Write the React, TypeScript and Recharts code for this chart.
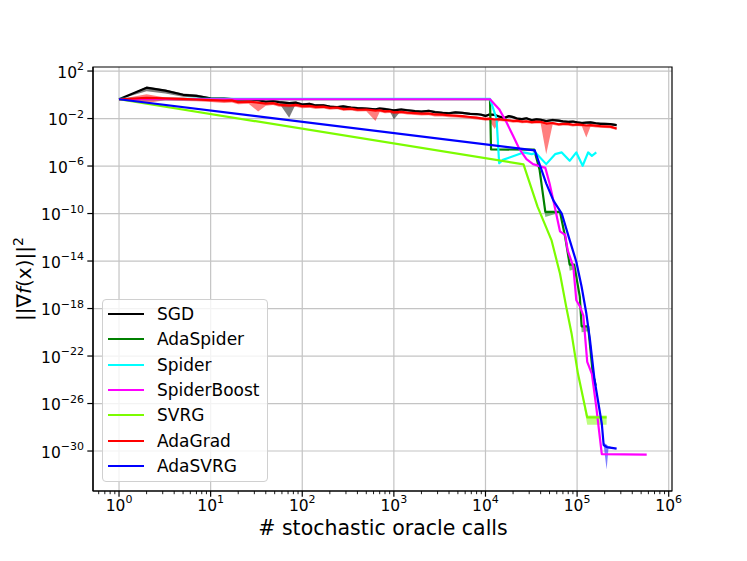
import React from "react";
import {
  Area,
  CartesianGrid,
  ComposedChart,
  Legend,
  Line,
  ReferenceArea,
  XAxis,
  YAxis,
} from "recharts";

// [oracle calls, mean, low, high]  (low/high optional: no band)
const sgd = [
  [1, 0.42, 0.42, 0.42],
  [2, 4.0, 2.0, 4.8],
  [3.2, 2.24, 1.26, 2.8],
  [5, 1.0, 0.7, 1.3],
  [7, 0.8, 0.6, 1.05],
  [10, 0.5, 0.4, 0.6],
  [14, 0.48, 0.38, 0.6],
  [20, 0.4, 0.32, 0.5],
  [26, 0.42, 0.33, 0.52],
  [33, 0.355, 0.28, 0.45],
  [40, 0.26, 0.21, 0.33],
  [48, 0.3, 0.24, 0.37],
  [56, 0.24, 0.19, 0.3],
  [72, 0.2, 0.0115, 0.25],
  [85, 0.22, 0.17, 0.27],
  [100, 0.15, 0.12, 0.19],
  [120, 0.17, 0.13, 0.21],
  [140, 0.126, 0.1, 0.16],
  [170, 0.13, 0.1, 0.16],
  [200, 0.1, 0.08, 0.125],
  [240, 0.09, 0.07, 0.11],
  [280, 0.105, 0.085, 0.13],
  [340, 0.085, 0.068, 0.105],
  [400, 0.076, 0.06, 0.095],
  [500, 0.068, 0.055, 0.085],
  [630, 0.06, 0.048, 0.075],
  [700, 0.07, 0.055, 0.088],
  [800, 0.063, 0.05, 0.08],
  [900, 0.055, 0.044, 0.07],
  [1000, 0.048, 0.0083, 0.06],
  [1200, 0.058, 0.046, 0.072],
  [1400, 0.05, 0.04, 0.063],
  [1700, 0.042, 0.034, 0.053],
  [2000, 0.038, 0.03, 0.048],
  [2400, 0.045, 0.036, 0.056],
  [2800, 0.035, 0.028, 0.045],
  [3400, 0.03, 0.024, 0.038],
  [4000, 0.028, 0.022, 0.035],
  [4700, 0.033, 0.026, 0.042],
  [5600, 0.03, 0.024, 0.038],
  [6800, 0.025, 0.02, 0.031],
  [8000, 0.024, 0.019, 0.03],
  [9000, 0.021, 0.017, 0.027],
  [1e4, 0.0166, 0.013, 0.021],
  [1.1e4, 0.022, 0.017, 0.027],
  [1.26e4, 0.02, 0.016, 0.025],
  [1.4e4, 0.015, 0.012, 0.019],
  [1.6e4, 0.0112, 0.009, 0.014],
  [1.8e4, 0.016, 0.012, 0.02],
  [2e4, 0.0132, 0.0105, 0.017],
  [2.2e4, 0.01, 0.008, 0.013],
  [2.5e4, 0.0089, 0.007, 0.011],
  [2.8e4, 0.0105, 0.0083, 0.013],
  [3.2e4, 0.0071, 0.0056, 0.009],
  [3.6e4, 0.0085, 0.0068, 0.011],
  [4e4, 0.0079, 0.0063, 0.01],
  [4.6e4, 0.006, 0.0048, 0.0076],
  [5.4e4, 0.0075, 0.006, 0.0095],
  [6.3e4, 0.0066, 0.0052, 0.0083],
  [7e4, 0.0058, 0.0046, 0.0073],
  [8e4, 0.0052, 0.0042, 0.0066],
  [9e4, 0.0056, 0.0045, 0.007],
  [1e5, 0.0048, 0.0038, 0.006],
  [1.13e5, 0.0042, 0.0034, 0.0053],
  [1.26e5, 0.0045, 0.0036, 0.0056],
  [1.4e5, 0.0047, 0.0037, 0.0059],
  [1.6e5, 0.004, 0.0032, 0.005],
  [1.8e5, 0.0036, 0.0029, 0.0046],
  [2e5, 0.0035, 0.0028, 0.0045],
  [2.3e5, 0.0034, 0.0027, 0.0043],
  [2.7e5, 0.0028, 0.0022, 0.0035],
];

const adaSpider = [
  [1, 0.42],
  [1.12e4, 0.42],
  [1.15e4, 2.5e-5],
  [3.4e4, 2.4e-5],
  [3.9e4, 4.6e-7],
  [4.5e4, 1.4e-10, 5e-11, 1.6e-10],
  [6.5e4, 1.4e-10, 1.2e-10, 1.5e-10],
  [7.4e4, 1.1e-12],
  [8.3e4, 5e-15, 1.5e-15, 6e-15],
  [9.3e4, 5e-15, 2e-15, 5e-15],
  [1.07e5, 1e-17],
  [1.12e5, 3.2e-20, 1e-20, 3.5e-20],
  [1.32e5, 3.2e-20, 1.2e-20, 3.2e-20],
  [1.48e5, 4e-24],
  [1.6e5, 3.2e-25],
];

const spider = [
  [1, 0.45],
  [1.12e4, 0.45],
  [1.32e4, 1e-2],
  [1.41e4, 1.7e-6],
  [1.55e4, 3.3e-6],
  [1.8e4, 5e-6],
  [2.6e4, 1.4e-5],
  [3.2e4, 1e-5],
  [3.55e4, 1.26e-5],
  [4.6e4, 1.45e-6],
  [5.75e4, 1e-5],
  [6.8e4, 1.4e-5],
  [8.3e4, 2.75e-6],
  [9.8e4, 1.4e-5],
  [1.15e5, 1.05e-6],
  [1.32e5, 1.4e-5],
  [1.45e5, 7.2e-6],
  [1.62e5, 1.4e-5],
];

const spiderBoost = [
  [1, 0.42],
  [1.12e4, 0.42],
  [1.41e4, 6.2e-2],
  [1.7e4, 4.6e-3],
  [2e4, 3.5e-4],
  [2.35e4, 2.6e-5],
  [2.8e4, 3.8e-6],
  [3.3e4, 1.45e-6],
  [4.5e4, 7e-7],
  [5e4, 3.5e-8],
  [5.5e4, 1.3e-9],
  [6.5e4, 3.2e-12],
  [7.4e4, 1.6e-12],
  [7.9e4, 8e-14],
  [9.1e4, 3.2e-15],
  [9.8e4, 5e-18],
  [1.07e5, 1.6e-18],
  [1.17e5, 2.5e-19],
  [1.29e5, 3.2e-23],
  [1.45e5, 3.2e-24],
  [1.62e5, 5e-27],
  [1.86e5, 5.5e-31],
  [5.75e5, 5e-31],
];

const svrg = [
  [1, 0.42],
  [2.6e4, 1.4e-6],
  [3.7e4, 3.8e-10],
  [5.25e4, 5.8e-13],
  [6.5e4, 9e-16],
  [7.6e4, 1.45e-18],
  [8.7e4, 8e-21],
  [1.02e5, 3.5e-24],
  [1.29e5, 6.8e-28, 1.6e-28, 1e-27],
  [2.1e5, 6.8e-28, 1.6e-28, 1e-27],
];

const adaGrad = [
  [1, 0.42, 0.42, 0.42],
  [2, 0.55, 0.2, 1.1],
  [3.2, 0.5, 0.35, 0.6],
  [5, 0.46, 0.3, 0.55],
  [7, 0.4, 0.28, 0.48],
  [10, 0.35, 0.25, 0.4],
  [14, 0.32, 0.2, 0.36],
  [17, 0.34, 0.22, 0.38],
  [20, 0.24, 0.16, 0.28],
  [26, 0.27, 0.18, 0.3],
  [33, 0.22, 0.04, 0.26],
  [40, 0.18, 0.12, 0.2],
  [48, 0.2, 0.14, 0.23],
  [56, 0.15, 0.1, 0.17],
  [72, 0.126, 0.09, 0.14],
  [85, 0.14, 0.1, 0.16],
  [100, 0.11, 0.075, 0.125],
  [120, 0.115, 0.08, 0.13],
  [140, 0.095, 0.065, 0.11],
  [170, 0.1, 0.07, 0.115],
  [200, 0.079, 0.055, 0.09],
  [240, 0.085, 0.06, 0.097],
  [280, 0.063, 0.045, 0.072],
  [340, 0.068, 0.048, 0.078],
  [400, 0.055, 0.04, 0.063],
  [500, 0.058, 0.042, 0.066],
  [630, 0.047, 0.0063, 0.053],
  [700, 0.05, 0.036, 0.057],
  [800, 0.04, 0.028, 0.045],
  [900, 0.043, 0.03, 0.049],
  [1000, 0.034, 0.024, 0.038],
  [1200, 0.037, 0.026, 0.042],
  [1400, 0.032, 0.022, 0.036],
  [1700, 0.029, 0.02, 0.033],
  [2000, 0.026, 0.018, 0.03],
  [2400, 0.027, 0.019, 0.031],
  [2800, 0.022, 0.015, 0.025],
  [3400, 0.021, 0.0145, 0.024],
  [4000, 0.019, 0.013, 0.022],
  [4700, 0.0175, 0.012, 0.02],
  [5600, 0.016, 0.011, 0.018],
  [6800, 0.0135, 0.0095, 0.0155],
  [8000, 0.012, 0.0085, 0.014],
  [9000, 0.0105, 0.0075, 0.012],
  [1e4, 0.0093, 0.0065, 0.011],
  [1.1e4, 0.0098, 0.007, 0.0112],
  [1.26e4, 0.0083, 0.0013, 0.0095],
  [1.4e4, 0.0088, 0.0062, 0.01],
  [1.6e4, 0.0076, 0.0055, 0.0087],
  [1.8e4, 0.0072, 0.0051, 0.0083],
  [2e4, 0.0063, 0.0045, 0.0072],
  [2.2e4, 0.0066, 0.0047, 0.0076],
  [2.5e4, 0.0056, 0.004, 0.0065],
  [2.8e4, 0.0059, 0.0042, 0.0068],
  [3.2e4, 0.005, 0.0036, 0.0058],
  [3.6e4, 0.0054, 0.0039, 0.0062],
  [4e4, 0.0052, 0.0038, 0.006],
  [4.6e4, 0.0038, 0.00001, 0.0044],
  [5.4e4, 0.0042, 0.003, 0.0048],
  [6.3e4, 0.0033, 0.0024, 0.0038],
  [7e4, 0.0036, 0.0026, 0.0041],
  [8e4, 0.0035, 0.0025, 0.004],
  [9e4, 0.003, 0.0021, 0.0034],
  [1e5, 0.0032, 0.0023, 0.0037],
  [1.13e5, 0.0029, 0.0021, 0.0033],
  [1.26e5, 0.0026, 0.00025, 0.003],
  [1.4e5, 0.0028, 0.002, 0.0032],
  [1.6e5, 0.0025, 0.0018, 0.0029],
  [1.8e5, 0.0023, 0.0017, 0.0027],
  [2e5, 0.0022, 0.0016, 0.0026],
  [2.3e5, 0.0021, 0.0015, 0.0025],
  [2.7e5, 0.00145, 0.0011, 0.0018],
];

const adaSvrg = [
  [1, 0.42],
  [3.45e4, 2.1e-5],
  [4.6e4, 3.5e-8],
  [5.5e4, 1.3e-9],
  [6.8e4, 1e-10],
  [8.3e4, 5.8e-13],
  [9.8e4, 8.7e-15],
  [1.12e5, 6.9e-17],
  [1.26e5, 4e-19],
  [1.38e5, 2.5e-21],
  [1.55e5, 1e-24],
  [1.86e5, 2e-28],
  [1.95e5, 3.2e-30, 3.2e-30, 5e-30],
  [2.1e5, 2.2e-30, 2.8e-32, 3.5e-30],
  [2.2e5, 2e-30, 1.6e-30, 2.5e-30],
  [2.7e5, 1.6e-30],
];

const xMajorTicks = [1, 10, 100, 1e3, 1e4, 1e5, 1e6];
const xMinorTicks = [0.1, 1, 10, 100, 1e3, 1e4, 1e5]
  .flatMap((d) => [2, 3, 4, 5, 6, 7, 8, 9].map((m) => m * d))
  .filter((v) => v > 0.52 && v < 1e6);
const yTicks = [1e2, 1e-2, 1e-6, 1e-10, 1e-14, 1e-18, 1e-22, 1e-26, 1e-30];

const X_DOMAIN = [0.52, 1.086e6];
const Y_DOMAIN = [4.3e-34, 219];

type Row = { x: number; y: number; lo: number; hi: number };
const toRows = (pts: number[][]): Row[] =>
  pts.map(([x, y, lo, hi]) => ({ x, y, lo: lo ?? y, hi: hi ?? y }));

const series = [
  { name: "SGD", color: "#000000", band: true, rows: toRows(sgd) },
  { name: "AdaSpider", color: "#008000", band: true, rows: toRows(adaSpider) },
  { name: "Spider", color: "#00ffff", band: false, rows: toRows(spider) },
  { name: "SpiderBoost", color: "#ff00ff", band: false, rows: toRows(spiderBoost) },
  { name: "SVRG", color: "#7cfc00", band: true, rows: toRows(svrg) },
  { name: "AdaGrad", color: "#ff0000", band: true, rows: toRows(adaGrad) },
  { name: "AdaSVRG", color: "#0000ff", band: true, rows: toRows(adaSvrg) },
];

const FONT = "'DejaVu Sans', sans-serif";

const expText = (v: number) => {
  const e = Math.round(Math.log10(v));
  return e < 0 ? `\u2212${-e}` : `${e}`;
};

function XTick(props: any) {
  const { x, y, payload } = props;
  const v = payload.value;
  const l = Math.log10(v);
  const major = Math.abs(l - Math.round(l)) < 1e-6;
  if (!major) {
    return <line x1={x} x2={x} y1={y} y2={y + 3.2} stroke="#000" strokeWidth={0.9} />;
  }
  return (
    <g>
      <line x1={x} x2={x} y1={y} y2={y + 5.7} stroke="#000" strokeWidth={1.2} />
      <text x={x} y={y + 19.7} textAnchor="middle" fontSize={15.5} fill="#000">
        10
        <tspan dy={-7.5} fontSize={11}>
          {expText(v)}
        </tspan>
      </text>
    </g>
  );
}

function YTick(props: any) {
  const { x, y, payload } = props;
  return (
    <g>
      <line x1={x - 5.7} x2={x} y1={y} y2={y} stroke="#000" strokeWidth={1.2} />
      <text x={x - 9} y={y + 6.5} textAnchor="end" fontSize={15.5} fill="#000">
        10
        <tspan dy={-7.5} fontSize={11}>
          {expText(payload.value)}
        </tspan>
      </text>
    </g>
  );
}

function LegendBox() {
  return (
    <div
      style={{
        position: "relative",
        width: 166,
        height: 183,
        boxSizing: "border-box",
        border: "1px solid #d0d0d0",
        borderRadius: 4,
        background: "rgba(255,255,255,0.8)",
        fontFamily: FONT,
      }}
    >
      {series.map((s, i) => (
        <div
          key={s.name}
          style={{
            position: "absolute",
            left: 0,
            top: Math.round(2 + i * 25.3),
            height: 24,
            display: "flex",
            alignItems: "center",
          }}
        >
          <svg width={41} height={24} style={{ display: "block" }}>
            <line x1={5} x2={41} y1={12} y2={12} stroke={s.color} strokeWidth={2} />
          </svg>
          <span style={{ marginLeft: 13, fontSize: 17, color: "#000", lineHeight: "24px" }}>
            {s.name}
          </span>
        </div>
      ))}
    </div>
  );
}

export default function App() {
  return (
    <div style={{ position: "absolute", left: 0, top: 0, width: 747, height: 561, background: "#fff", fontFamily: FONT }}>
      <ComposedChart width={747} height={561} margin={{ top: 67, right: 75, bottom: 0, left: 0 }}>
        <CartesianGrid
          stroke="#c4c4c4"
          strokeWidth={1.2}
          verticalValues={xMajorTicks}
          horizontalValues={yTicks}
        />
        <XAxis
          dataKey="x"
          type="number"
          scale="log"
          domain={X_DOMAIN}
          allowDataOverflow
          ticks={[...xMajorTicks, ...xMinorTicks]}
          interval={0}
          tick={XTick}
          tickLine={false}
          tickSize={0}
          tickMargin={0}
          axisLine={{ stroke: "#000", strokeWidth: 1.2 }}
          height={70}
          label={{
            content: () => (
              <text x={383} y={535} textAnchor="middle" fontSize={20.5} fill="#000">
                # stochastic oracle calls
              </text>
            ),
          }}
        />
        <YAxis
          type="number"
          scale="log"
          domain={Y_DOMAIN}
          allowDataOverflow
          ticks={yTicks}
          interval={0}
          tick={YTick}
          tickLine={false}
          tickSize={0}
          tickMargin={0}
          axisLine={{ stroke: "#000", strokeWidth: 1.2 }}
          width={93}
          label={{
            content: () => (
              <text transform="translate(31,279) rotate(-90)" textAnchor="middle" fontSize={20} fill="#000">
                ||∇<tspan fontStyle="italic">f</tspan>(<tspan>x</tspan>)||
                <tspan dy={-8} fontSize={14}>
                  2
                </tspan>
              </text>
            ),
          }}
        />
        {series.flatMap((s) => {
          const out = [];
          if (s.band) {
            out.push(
              <Area
                key={s.name + "-band"}
                data={s.rows}
                dataKey={(d: Row) => [d.lo, d.hi]}
                type="linear"
                stroke="none"
                fill={s.color}
                fillOpacity={0.5}
                legendType="none"
                dot={false}
                activeDot={false}
                isAnimationActive={false}
              />
            );
          }
          out.push(
            <Line
              key={s.name}
              data={s.rows}
              dataKey="y"
              name={s.name}
              type="linear"
              stroke={s.color}
              strokeWidth={2.2}
              strokeLinejoin="round"
              dot={false}
              activeDot={false}
              isAnimationActive={false}
            />
          );
          return out;
        })}
        <ReferenceArea
          x1={X_DOMAIN[0]}
          x2={X_DOMAIN[1]}
          y1={Y_DOMAIN[0]}
          y2={Y_DOMAIN[1]}
          fill="none"
          stroke="#000"
          strokeWidth={1.2}
          ifOverflow="visible"
        />
        <Legend
          layout="vertical"
          align="center"
          verticalAlign="middle"
          content={() => <LegendBox />}
          wrapperStyle={{ left: 102, top: 299, width: 166, height: 183 }}
        />
      </ComposedChart>
    </div>
  );
}
